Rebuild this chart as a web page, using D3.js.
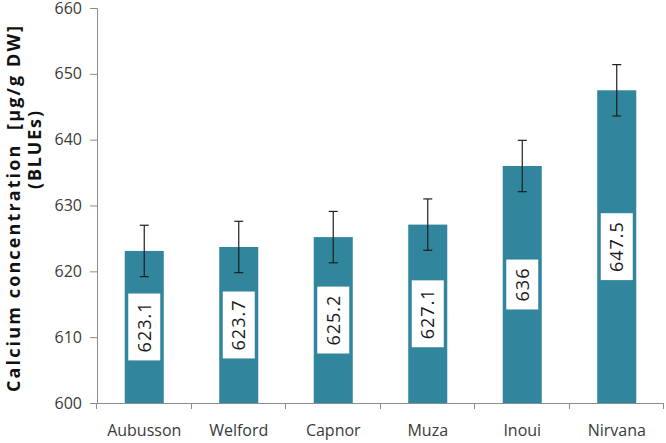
<!DOCTYPE html>
<html>
<head>
<meta charset="utf-8">
<script src="https://cdn.jsdelivr.net/npm/d3@7"></script>
<style>
  body { margin: 0; background: #fff; }
  svg { display: block; font-family: "Open Sans", sans-serif; }
  .axis path, .axis line { stroke: #8c8c8c; }
  .axis text { fill: #3a3a3a; font-size: 16px; font-family: "Open Sans", sans-serif; }
</style>
</head>
<body>
<div id="graf"></div>
<script>
// Datos
const variedades = ['Aubusson', 'Welford', 'Capnor', 'Muza', 'Inoui', 'Nirvana']
const valores = [623.1, 623.7, 625.2, 627.1, 636, 647.5]
const errores = [3.9, 3.9, 3.9, 3.9, 3.9, 3.9]
const yTicks = [600, 610, 620, 630, 640, 650, 660]

const data = variedades.map((v, i) => ({ variedad: v, valor: valores[i], error: errores[i] }))

// Dimensiones
const anchoTotal = 666
const altoTotal = 443
const margins = { top: 8, right: 2, bottom: 40, left: 97 }
const ancho = anchoTotal - margins.left - margins.right
const alto = altoTotal - margins.top - margins.bottom

const svg = d3.select('#graf').append('svg')
    .attr('width', anchoTotal)
    .attr('height', altoTotal)

const g = svg.append('g')
    .attr('transform', `translate(${margins.left}, ${margins.top})`)

// Escaladores
const y = d3.scaleLinear()
    .domain([600, 660])
    .range([alto, 0])

const x = d3.scaleBand()
    .domain(variedades)
    .range([0, ancho])
    .paddingInner(0.587)
    .paddingOuter(0.2935)

// Ejes
const yAxis = d3.axisLeft(y).tickValues(yTicks).tickSize(7).tickPadding(8).tickFormat(d3.format('d'))
const yAxisGroup = g.append('g').classed('axis', true).call(yAxis)
yAxisGroup.select('.domain').attr('d', `M0.5,${alto}V0.5H-7`)

const xAxisGroup = g.append('g')
    .classed('axis', true)
    .attr('transform', `translate(0, ${alto})`)
    .call(d3.axisBottom(x).tickSize(0).tickPadding(0))
xAxisGroup.select('.domain').attr('d', `M0,0.5H${ancho}`)
xAxisGroup.selectAll('text').attr('y', 33).attr('dy', 0)

// Marcas de separación
const paso = x.step()
xAxisGroup.selectAll('.sep')
    .data(d3.range(variedades.length + 1))
    .enter()
    .append('line')
    .attr('class', 'sep')
    .attr('x1', (d) => Math.round(d * paso) - 0.5)
    .attr('x2', (d) => Math.round(d * paso) - 0.5)
    .attr('y1', 0)
    .attr('y2', 6)

// Barras
g.selectAll('.bar')
    .data(data)
    .enter()
    .append('rect')
    .attr('class', 'bar')
    .attr('x', (d) => x(d.variedad))
    .attr('y', (d) => y(d.valor))
    .attr('width', x.bandwidth())
    .attr('height', (d) => alto - y(d.valor))
    .attr('fill', '#31859c')

// Barras de error
const err = g.append('g').attr('stroke', '#1e1e1e').attr('stroke-width', 1.2)
data.forEach((d) => {
    const cx = x(d.variedad) + x.bandwidth() / 2
    err.append('line')
        .attr('x1', cx).attr('x2', cx)
        .attr('y1', y(d.valor + d.error)).attr('y2', y(d.valor - d.error))
    ;[d.valor + d.error, d.valor - d.error].forEach((v) => {
        err.append('line')
            .attr('x1', cx - 4.5).attr('x2', cx + 4.5)
            .attr('y1', y(v)).attr('y2', y(v))
    })
})

// Etiquetas
const etiquetas = g.append('g')
data.forEach((d) => {
    const cx = x(d.variedad) + x.bandwidth() / 2
    const cy = (y(d.valor) + alto) / 2
    const et = etiquetas.append('g').attr('transform', `translate(${cx}, ${cy}) rotate(-90)`)
    const rect = et.append('rect').attr('fill', 'white')
    const t = et.append('text')
        .attr('text-anchor', 'middle')
        .attr('dy', '0.35em')
        .attr('font-size', 18)
        .attr('letter-spacing', 1)
        .attr('fill', '#1a1a1a')
        .text(d.valor)
    const w = t.node().getComputedTextLength()
    rect.attr('x', -w / 2 - 8).attr('y', -16).attr('width', w + 16).attr('height', 32)
})

// Titulo del eje
svg.append('text')
    .attr('transform', 'translate(0, 209) rotate(-90)')
    .attr('text-anchor', 'middle')
    .attr('font-weight', 'bold')
    .attr('font-size', 18)
    .attr('fill', '#111')
    .attr('x', 0)
    .attr('y', 20)
    .attr('textLength', 366)
    .attr('lengthAdjust', 'spacing')
    .style('white-space', 'pre')
    .text('Calcium concentration  [µg/g DW]')
svg.append('text')
    .attr('transform', 'translate(0, 150) rotate(-90)')
    .attr('text-anchor', 'middle')
    .attr('font-weight', 'bold')
    .attr('font-size', 18)
    .attr('fill', '#111')
    .attr('x', 0)
    .attr('y', 41)
    .attr('textLength', 78)
    .attr('lengthAdjust', 'spacing')
    .text('(BLUEs)')
</script>
</body>
</html>
